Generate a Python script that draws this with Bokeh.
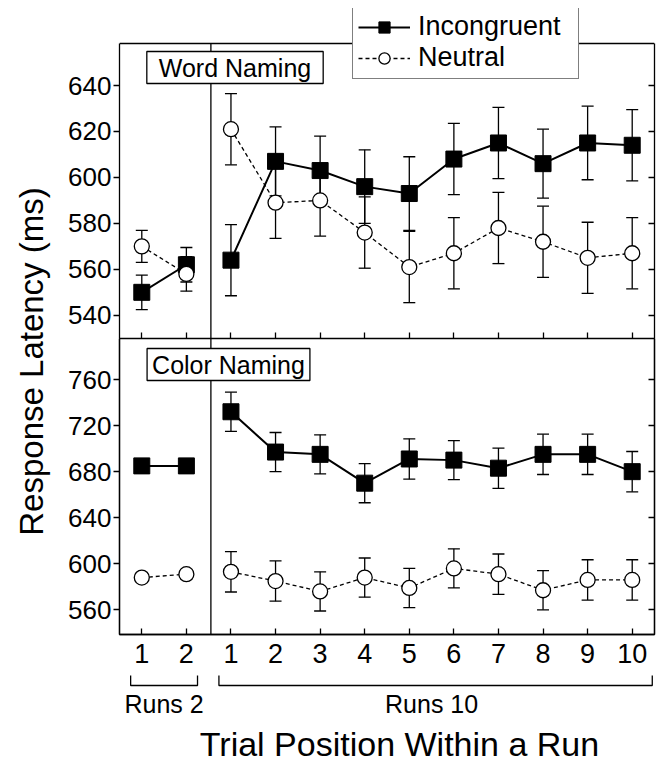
from math import pi
from bokeh.plotting import figure
from bokeh.models import (Range1d, LinearAxis, FixedTicker, Span, Whisker, TeeHead,
                          ColumnDataSource, Legend, LegendItem, Label, CustomLabelingPolicy)
from bokeh.layouts import row, column
from bokeh.embed import file_html
from bokeh.resources import INLINE
from bokeh.core.properties import value

FONT = "Liberation Sans"

# ---------------- data ----------------
runs2_trials = [1, 2]
runs10_trials = [1, 2, 3, 4, 5, 6, 7, 8, 9, 10]
runs2_ticklabels = ["1", "2"]
runs10_ticklabels = ["1", "2", "3", "4", "5", "6", "7", "8", "9", "10"]

series_names = ["Incongruent", "Neutral"]
panel_titles = ["Word Naming", "Color Naming"]

# Word naming (ms)
word_inc_r2 = [550, 562]
word_inc_r2_se = [7.5, 7.5]
word_neu_r2 = [570, 558]
word_neu_r2_se = [7.0, 7.5]
word_inc_r10 = [564, 607, 603, 596, 593, 608, 615, 606, 615, 614]
word_inc_r10_se = [15.5, 15, 15, 16, 16, 15.5, 15.5, 15, 16, 15.5]
word_neu_r10 = [621, 589, 590, 576, 561, 567, 578, 572, 565, 567]
word_neu_r10_se = [15.5, 15.5, 15.5, 15.5, 15.5, 15.5, 15.5, 15.5, 15.5, 15.5]

# Color naming (ms)
color_inc_r2 = [685, 685]
color_inc_r2_se = [3, 3]
color_neu_r2 = [588, 591]
color_neu_r2_se = [4, 4]
color_inc_r10 = [732, 697, 695, 670, 691, 690, 683, 695, 695, 680]
color_inc_r10_se = [17, 17, 17, 17, 17.5, 17, 17.5, 17.5, 17.5, 17.5]
color_neu_r10 = [593, 585, 576, 588, 579, 596, 591, 577, 586, 586]
color_neu_r10_se = [17.5, 17.5, 17, 17, 17, 17, 17.5, 17, 17.5, 17.5]

word_yticks = [540, 560, 580, 600, 620, 640]
color_yticks = [560, 600, 640, 680, 720, 760]
word_ylim = (529.9, 658.3)
color_ylim = (538.6, 795.6)

# ---------------- layout helpers ----------------
x_r2 = [t - 1 for t in runs2_trials]          # 0, 1
x_r10 = [t + 1 for t in runs10_trials]        # 2 .. 11
all_x = x_r2 + x_r10
tick_overrides = {}
for xv, lab in zip(x_r2, runs2_ticklabels):
    tick_overrides[xv] = lab
for xv, lab in zip(x_r10, runs10_ticklabels):
    tick_overrides[xv] = lab
separator_x = (x_r2[-1] + x_r10[0]) / 2 + 0.05

XR = Range1d(-0.5, 11.5)
LW = 1.3


def no_labels(axis):
    axis.major_label_policy = CustomLabelingPolicy(code="return []")
    axis.major_label_standoff = 0
    axis.major_label_text_font_size = "0px"


def make_panel(ylim, yticks, height, btop, bbottom, show_xlabels, headroom_px=0):
    y_lo, y_hi = ylim
    frame_h = height - btop - bbottom - headroom_px
    y_end = y_hi + headroom_px * (y_hi - y_lo) / frame_h
    p = figure(width=606, height=height, x_range=XR, y_range=Range1d(y_lo, y_end),
               output_backend="svg", toolbar_location=None,
               x_axis_type=None, y_axis_type=None,
               min_border_left=67, min_border_right=4,
               min_border_top=btop, min_border_bottom=bbottom)
    p.background_fill_color = "white"
    p.border_fill_color = "white"
    if headroom_px:
        p.outline_line_color = None
    else:
        p.outline_line_color = "black"
        p.outline_line_width = LW

    ya = LinearAxis(ticker=FixedTicker(ticks=yticks, minor_ticks=[]),
                    bounds=(y_lo, y_hi),
                    major_tick_out=6, major_tick_in=0,
                    minor_tick_out=0, minor_tick_in=0,
                    major_label_standoff=2,
                    major_label_text_font=FONT,
                    major_label_text_font_size="26px",
                    major_label_text_color="black",
                    axis_line_color="black", axis_line_width=LW,
                    major_tick_line_color="black", major_tick_line_width=LW)
    p.add_layout(ya, "left")

    yr = LinearAxis(ticker=FixedTicker(ticks=yticks, minor_ticks=[]),
                    bounds=(y_lo, y_hi),
                    major_tick_out=0, major_tick_in=6,
                    minor_tick_out=0, minor_tick_in=0,
                    axis_line_color="black", axis_line_width=LW,
                    major_tick_line_color="black", major_tick_line_width=LW)
    no_labels(yr)
    p.add_layout(yr, "right")

    xa = LinearAxis(ticker=FixedTicker(ticks=all_x, minor_ticks=[]),
                    major_tick_out=0, major_tick_in=6,
                    minor_tick_out=0, minor_tick_in=0,
                    axis_line_color="black", axis_line_width=LW,
                    major_tick_line_color="black", major_tick_line_width=LW)
    if show_xlabels:
        xa.major_label_overrides = tick_overrides
        xa.major_label_text_font = FONT
        xa.major_label_text_font_size = "27px"
        xa.major_label_text_color = "black"
        xa.major_label_standoff = 9
    else:
        no_labels(xa)
    p.add_layout(xa, "below")

    if headroom_px:
        # top border of the panel box
        p.add_layout(Span(location=y_hi, dimension="width",
                          line_color="black", line_width=LW))
        p.segment(x0=[separator_x], y0=[y_lo], x1=[separator_x], y1=[y_hi],
                  line_color="black", line_width=LW)
    else:
        p.add_layout(Span(location=separator_x, dimension="height",
                          line_color="black", line_width=LW))
    return p


def draw_series(p, xs, ys, se, kind):
    src = ColumnDataSource(dict(x=xs, y=ys,
                                lo=[a - b for a, b in zip(ys, se)],
                                hi=[a + b for a, b in zip(ys, se)]))
    w = Whisker(base="x", lower="lo", upper="hi", source=src, dimension="height",
                line_color="black", line_width=LW,
                upper_head=TeeHead(size=12, line_color="black", line_width=LW),
                lower_head=TeeHead(size=12, line_color="black", line_width=LW))
    p.add_layout(w)
    if kind == "inc":
        ln = p.line("x", "y", source=src, line_color="black", line_width=2)
        mk = p.scatter("x", "y", source=src, marker="square", size=16,
                       fill_color="black", line_color="black")
    else:
        ln = p.line("x", "y", source=src, line_color="black", line_width=LW,
                    line_dash="4 3")
        mk = p.scatter("x", "y", source=src, marker="circle", size=15,
                       fill_color="white", line_color="black", line_width=LW)
    return ln, mk


# ---------------- top panel: Word Naming ----------------
top = make_panel(word_ylim, word_yticks, 338, 8, 0, False, headroom_px=35)
draw_series(top, x_r2, word_inc_r2, word_inc_r2_se, "inc")
inc_ln, inc_mk = draw_series(top, x_r10, word_inc_r10, word_inc_r10_se, "inc")
draw_series(top, x_r2, word_neu_r2, word_neu_r2_se, "neu")
neu_ln, neu_mk = draw_series(top, x_r10, word_neu_r10, word_neu_r10_se, "neu")

top.add_layout(Label(x=115.5, y=271, x_units="screen", y_units="screen",
                     text=panel_titles[0], text_align="center", text_baseline="middle",
                     text_font=FONT, text_font_size="25px", text_color="black",
                     border_line_color="black", border_line_width=LW,
                     background_fill_color="white", background_fill_alpha=1.0,
                     padding=(12, 2)))

legend = Legend(items=[LegendItem(label=series_names[0], renderers=[inc_ln, inc_mk]),
                       LegendItem(label=series_names[1], renderers=[neu_ln, neu_mk])],
                location=(233, 259), margin=0, padding=5, spacing=0,
                glyph_width=52, glyph_height=28, label_standoff=8, label_width=155,
                label_text_font=FONT, label_text_font_size="27px",
                label_text_color="black",
                border_line_color="black", border_line_width=LW,
                background_fill_color="white", background_fill_alpha=1.0)
top.add_layout(legend, "center")

# ---------------- bottom panel: Color Naming ----------------
bot = make_panel(color_ylim, color_yticks, 336, 0, 40, True)
draw_series(bot, x_r2, color_inc_r2, color_inc_r2_se, "inc")
draw_series(bot, x_r10, color_inc_r10, color_inc_r10_se, "inc")
draw_series(bot, x_r2, color_neu_r2, color_neu_r2_se, "neu")
draw_series(bot, x_r10, color_neu_r10, color_neu_r10_se, "neu")

bot.add_layout(Label(x=109, y=270, x_units="screen", y_units="screen",
                     text=panel_titles[1], text_align="center", text_baseline="middle",
                     text_font=FONT, text_font_size="25px", text_color="black",
                     border_line_color="black", border_line_width=LW,
                     background_fill_color="white", background_fill_alpha=1.0,
                     padding=(5, 2)))

# ---------------- brackets and x title ----------------
brk = figure(width=606, height=88, x_range=XR, y_range=Range1d(0, 88),
             output_backend="svg", toolbar_location=None,
             x_axis_type=None, y_axis_type=None,
             min_border_left=67, min_border_right=4, min_border_top=0, min_border_bottom=0)
brk.outline_line_color = None
r2_l, r2_r = x_r2[0] - 0.25, x_r2[-1] + 0.25
r10_l, r10_r = x_r10[0] - 0.27, x_r10[-1] + 0.45
brk.multi_line(xs=[[r2_l, r2_l, r2_r, r2_r], [r10_l, r10_l, r10_r, r10_r]],
               ys=[[87, 77, 77, 87], [87, 77, 77, 87]],
               line_color="black", line_width=LW)
brk.text(x=[sum(x_r2) / len(x_r2), sum(x_r10) / len(x_r10)], y=[58.5, 58.5],
         text=["Runs 2", "Runs 10"], text_align="center", text_baseline="middle",
         text_font=value(FONT), text_font_size="25px", text_color="black")
brk.text(x=[5.78], y=[19], text=["Trial Position Within a Run"],
         text_align="center", text_baseline="middle",
         text_font=value(FONT), text_font_size="34px", text_color="black")

# ---------------- y title ----------------
yt = figure(width=52, height=762, x_range=Range1d(0, 52), y_range=Range1d(0, 762),
            output_backend="svg", toolbar_location=None,
            x_axis_type=None, y_axis_type=None, min_border=0)
yt.outline_line_color = None
yt.text(x=[31], y=[401], text=["Response Latency (ms)"], angle=pi / 2,
        text_align="center", text_baseline="middle",
        text_font=value(FONT), text_font_size="33px", text_color="black")

layout = row(yt, column(top, bot, brk, spacing=0), spacing=0)

open("out.html", "w").write(file_html(layout, INLINE))
